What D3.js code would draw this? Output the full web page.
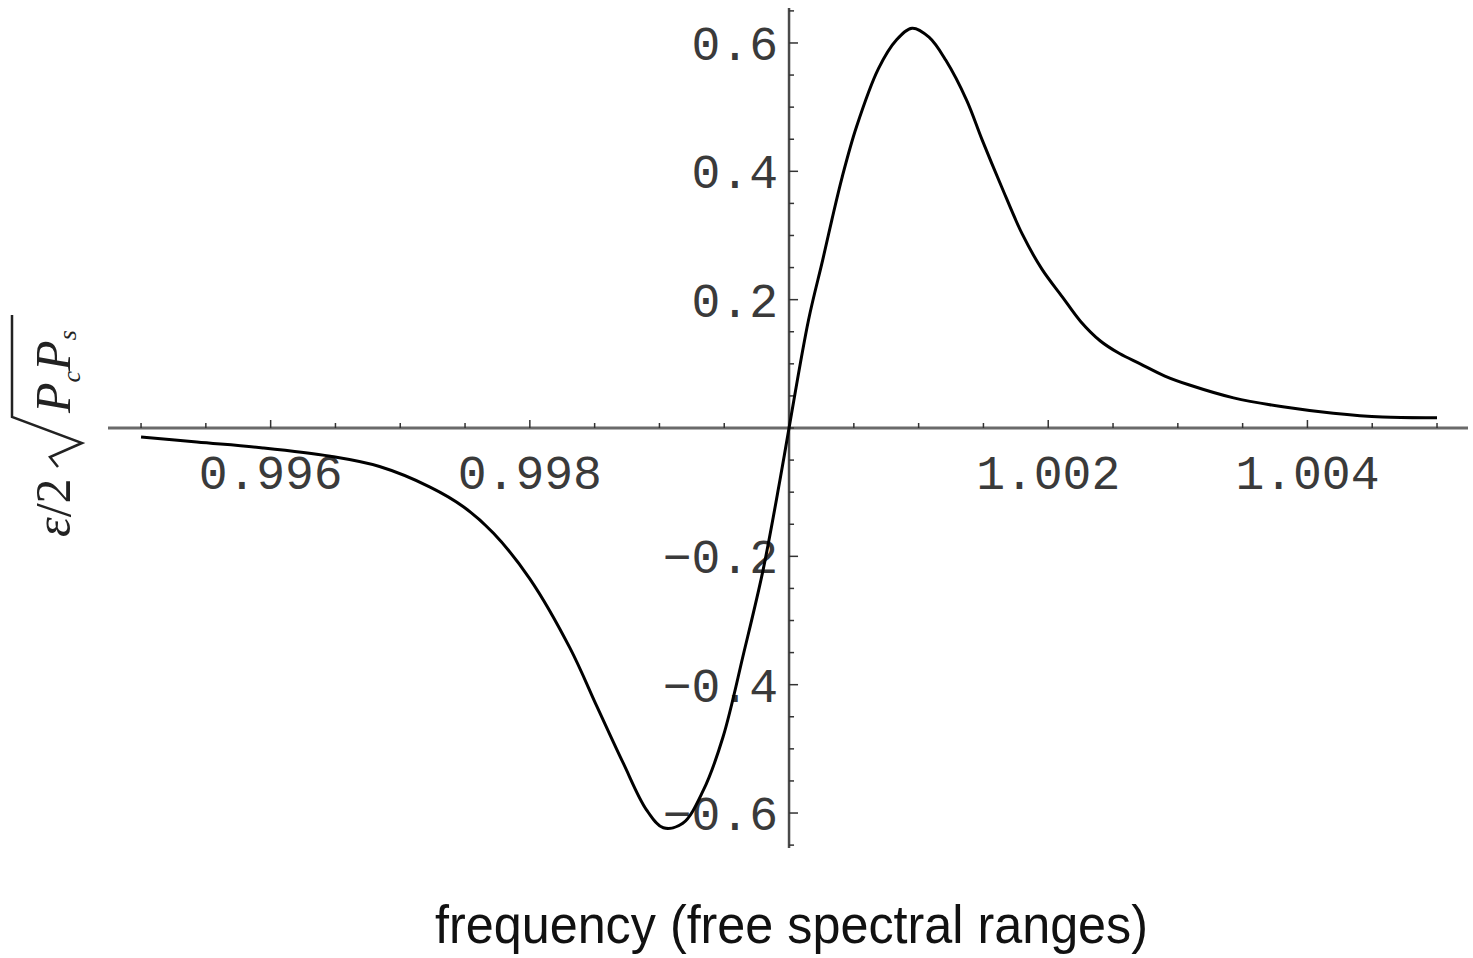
<!DOCTYPE html>
<html>
<head>
<meta charset="utf-8">
<script src="https://cdn.jsdelivr.net/npm/d3@7"></script>
<style>
  html, body { margin: 0; padding: 0; background: #fff; }
  svg { display: block; }
</style>
</head>
<body>
<div id="chart"></div>
<script>
// valeurs
const freq = [
  0.99500, 0.99543, 0.99594, 0.99646, 0.99684, 0.99723, 0.99749, 0.99772,
  0.99800, 0.99831, 0.99852, 0.99872, 0.99890, 0.99903, 0.99918, 0.99934,
  0.99949, 0.99965, 0.99980, 0.99993, 1.00000,
  1.00015, 1.00026, 1.00033, 1.00041, 1.00052, 1.00069, 1.00083,
  1.00095, 1.00108, 1.00121, 1.00137, 1.00149, 1.00164, 1.00180, 1.00195,
  1.00211, 1.00225, 1.00240, 1.00255, 1.00271, 1.00290, 1.00309, 1.00343,
  1.00381, 1.00420, 1.00458, 1.00500
];
const signal = [
  -0.014, -0.022, -0.031, -0.044, -0.060, -0.092, -0.123, -0.164,
  -0.235, -0.343, -0.435, -0.522, -0.595, -0.623, -0.616, -0.564,
  -0.482, -0.351, -0.221, -0.081, 0.000,
  0.168, 0.262, 0.324, 0.391, 0.469, 0.560, 0.605,
  0.623, 0.609, 0.573, 0.511, 0.449, 0.376, 0.302, 0.248,
  0.204, 0.166, 0.136, 0.116, 0.100, 0.081, 0.067, 0.047,
  0.033, 0.023, 0.017, 0.016
];

const xTickLabels = [0.996, 0.998, 1.002, 1.004];
const yTickLabels = [-0.6, -0.4, -0.2, 0.2, 0.4, 0.6];
const xLabel = "frequency (free spectral ranges)";

const width = 1473, height = 958;

const svg = d3.select("#chart").append("svg")
  .attr("width", width)
  .attr("height", height);

// échelles
const x = d3.scaleLinear().domain([0.994745, 1.005239]).range([108, 1468]);
const y = d3.scaleLinear().domain([-0.6545, 0.6545]).range([848, 8]);

const x0 = x(1.0), y0 = y(0);

// --- axe horizontal ---
svg.append("line")
  .attr("x1", x.range()[0]).attr("x2", x.range()[1])
  .attr("y1", y0).attr("y2", y0)
  .attr("stroke", "#6a6a6a").attr("stroke-width", 3);

const xMinor = d3.range(0.9950, 1.00501, 0.0005);
svg.append("g").selectAll("line")
  .data(xMinor)
  .join("line")
  .attr("x1", d => x(d)).attr("x2", d => x(d))
  .attr("y1", y0)
  .attr("y2", d => xTickLabels.some(t => Math.abs(t - d) < 1e-7) ? y0 - 8 : y0 - 5)
  .attr("stroke", "#333").attr("stroke-width", 1.5);

svg.append("g").selectAll("text")
  .data(xTickLabels)
  .join("text")
  .attr("x", d => x(d))
  .attr("y", y0 + 61)
  .attr("text-anchor", "middle")
  .attr("font-family", "Liberation Mono, DejaVu Sans Mono, monospace")
  .attr("font-size", 48)
  .attr("fill", "#3a3a3a")
  .text(d => d3.format(".3f")(d));

// --- axe vertical ---
svg.append("line")
  .attr("x1", x0).attr("x2", x0)
  .attr("y1", y.range()[1]).attr("y2", y.range()[0])
  .attr("stroke", "#4a4a4a").attr("stroke-width", 2.5);

const yMinor = d3.range(-0.65, 0.651, 0.05);
svg.append("g").selectAll("line")
  .data(yMinor)
  .join("line")
  .attr("x1", x0)
  .attr("x2", d => yTickLabels.some(t => Math.abs(t - d) < 1e-7) ? x0 + 9 : x0 + 5)
  .attr("y1", d => y(d)).attr("y2", d => y(d))
  .attr("stroke", "#333").attr("stroke-width", 1.5);

// d3.format donne le signe moins typographique (U+2212)
svg.append("g").selectAll("text")
  .data(yTickLabels)
  .join("text")
  .attr("x", x0 - 11)
  .attr("y", d => y(d) + 17)
  .attr("text-anchor", "end")
  .attr("font-family", "Liberation Mono, DejaVu Sans Mono, monospace")
  .attr("font-size", 48)
  .attr("fill", "#3a3a3a")
  .text(d => d3.format(".1f")(d));

// --- courbe ---
const pts = freq.map((f, i) => ({ f: f, v: signal[i] }));
const line = d3.line()
  .x(d => x(d.f))
  .y(d => y(d.v))
  .curve(d3.curveCatmullRom);

svg.append("path")
  .datum(pts)
  .attr("d", line)
  .attr("fill", "none")
  .attr("stroke", "#000")
  .attr("stroke-width", 3);

// --- titre axe x ---
svg.append("text")
  .attr("x", 435)
  .attr("y", 943)
  .attr("textLength", 713)
  .attr("lengthAdjust", "spacingAndGlyphs")
  .attr("font-family", "Liberation Sans, Arial, sans-serif")
  .attr("font-size", 54)
  .attr("fill", "#111")
  .text(xLabel);

// --- titre axe y : ε/2 √(Pc Ps) ---
const yl = svg.append("g")
  .attr("transform", "translate(70,537) rotate(-90)")
  .attr("fill", "#222")
  .attr("font-family", "Liberation Serif, Times New Roman, serif");

yl.append("text")
  .attr("x", 0).attr("y", 0)
  .attr("font-size", 50)
  .call(t => {
    t.append("tspan").attr("font-style", "italic").text("ε");
    t.append("tspan").text("/2");
  });

yl.append("path")
  .attr("d", "M 70,-12 L 80,-20 L 94,12 L 120,-58 L 222,-58")
  .attr("fill", "none")
  .attr("stroke", "#222")
  .attr("stroke-width", 2.5);

yl.append("text")
  .attr("x", 124).attr("y", 0)
  .attr("font-size", 50)
  .attr("font-style", "italic")
  .call(t => {
    t.append("tspan").text("P");
    t.append("tspan").attr("font-size", 26).attr("dy", 10).text("c");
    t.append("tspan").attr("dy", -10).text("P");
    t.append("tspan").attr("font-size", 26).attr("dy", 6).text("s");
  });
</script>
</body>
</html>
